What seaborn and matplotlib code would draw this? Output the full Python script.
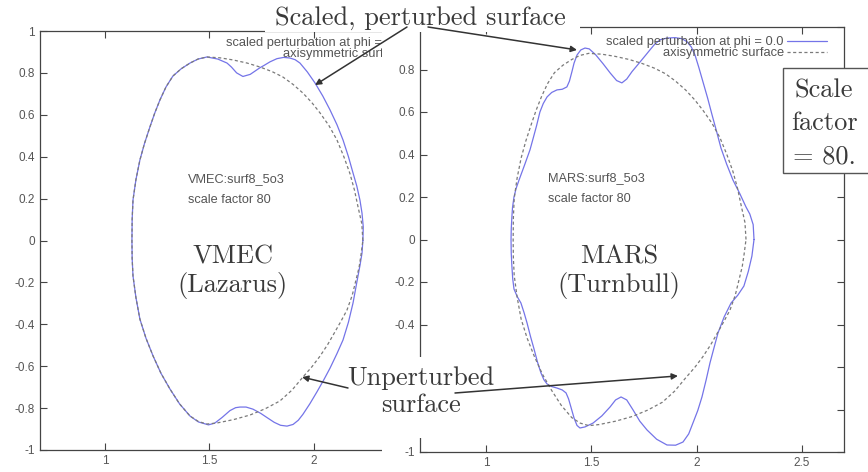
import matplotlib
matplotlib.use("Agg")
import matplotlib.pyplot as plt
from matplotlib.patches import Rectangle, ConnectionPatch
from matplotlib.lines import Line2D
import pandas as pd
import seaborn as sns

# ---- boundary of the axisymmetric surface (R, Z) ----
axisym_R = [2.234, 2.229, 2.211, 2.194, 2.172, 2.143, 2.110, 2.072, 2.029, 1.990,
            1.947, 1.900, 1.852, 1.800, 1.742, 1.680, 1.612, 1.550, 1.488, 1.445,
            1.407, 1.365, 1.325, 1.292, 1.263, 1.238, 1.215, 1.189, 1.167, 1.148,
            1.134, 1.130, 1.129, 1.130, 1.134, 1.148, 1.167, 1.196, 1.230, 1.268,
            1.311, 1.357, 1.407, 1.447, 1.488, 1.536, 1.615, 1.694, 1.767, 1.837,
            1.895, 1.947, 1.990, 2.029, 2.066, 2.100, 2.130, 2.158, 2.183, 2.201,
            2.216, 2.225, 2.234]
axisym_Z = [0.000, 0.080, 0.160, 0.240, 0.320, 0.400, 0.480, 0.548, 0.609, 0.658,
            0.704, 0.745, 0.780, 0.806, 0.828, 0.847, 0.862, 0.872, 0.876, 0.866,
            0.847, 0.820, 0.785, 0.733, 0.671, 0.608, 0.542, 0.463, 0.384, 0.290,
            0.193, 0.100, 0.000, -0.085, -0.169, -0.272, -0.375, -0.466, -0.551, -0.634,
            -0.709, -0.780, -0.838, -0.864, -0.876, -0.871, -0.855, -0.833, -0.803, -0.766,
            -0.714, -0.652, -0.603, -0.552, -0.496, -0.437, -0.384, -0.332, -0.262, -0.189,
            -0.128, -0.069, 0.000]

# ---- VMEC scaled perturbed surface at phi = 0 ----
vmec_R = [2.234, 2.236, 2.230, 2.220, 2.205, 2.187, 2.165, 2.139, 2.110, 2.077,
          2.042, 2.005, 1.968, 1.933, 1.910, 1.885, 1.855, 1.823, 1.790, 1.760,
          1.742, 1.720, 1.695, 1.660, 1.630, 1.605, 1.584, 1.540, 1.488, 1.445,
          1.407, 1.365, 1.325, 1.292, 1.263, 1.238, 1.215, 1.189, 1.167, 1.148,
          1.134, 1.130, 1.129, 1.130, 1.134, 1.148, 1.167, 1.196, 1.230, 1.268,
          1.311, 1.357, 1.407, 1.447, 1.495, 1.525, 1.560, 1.598, 1.625, 1.646,
          1.675, 1.708, 1.745, 1.775, 1.810, 1.840, 1.871, 1.900, 1.925, 1.947,
          1.980, 2.014, 2.046, 2.077, 2.110, 2.139, 2.165, 2.187, 2.205, 2.220,
          2.230, 2.234]
vmec_Z = [0.000, 0.064, 0.130, 0.193, 0.260, 0.322, 0.400, 0.480, 0.553, 0.623,
          0.690, 0.752, 0.805, 0.847, 0.863, 0.871, 0.874, 0.868, 0.853, 0.835,
          0.825, 0.810, 0.793, 0.783, 0.800, 0.828, 0.847, 0.866, 0.876, 0.866,
          0.847, 0.820, 0.785, 0.733, 0.671, 0.608, 0.542, 0.463, 0.384, 0.290,
          0.193, 0.100, 0.000, -0.085, -0.169, -0.272, -0.375, -0.466, -0.551, -0.634,
          -0.709, -0.780, -0.838, -0.866, -0.880, -0.872, -0.845, -0.812, -0.798, -0.795,
          -0.795, -0.805, -0.825, -0.845, -0.868, -0.882, -0.886, -0.878, -0.858, -0.830,
          -0.780, -0.723, -0.667, -0.609, -0.540, -0.475, -0.390, -0.298, -0.200, -0.120,
          -0.060, 0.000]

# ---- MARS scaled perturbed surface at phi = 0 ----
mars_R = [2.272, 2.268, 2.252, 2.234, 2.205, 2.172, 2.142, 2.115, 2.094, 2.073,
          2.052, 2.030, 2.010, 1.992, 1.975, 1.955, 1.930, 1.897, 1.860, 1.826,
          1.800, 1.778, 1.760, 1.745, 1.720, 1.693, 1.668, 1.645, 1.620, 1.590,
          1.555, 1.520, 1.490, 1.470, 1.450, 1.432, 1.418, 1.408, 1.396, 1.384,
          1.362, 1.337, 1.312, 1.290, 1.272, 1.256, 1.240, 1.225, 1.209, 1.183,
          1.157, 1.143, 1.133, 1.126, 1.123, 1.120, 1.119, 1.120, 1.123, 1.127,
          1.133, 1.148, 1.166, 1.181, 1.195, 1.211, 1.228, 1.244, 1.261, 1.275,
          1.290, 1.312, 1.337, 1.362, 1.380, 1.392, 1.403, 1.418, 1.432, 1.446,
          1.470, 1.508, 1.550, 1.589, 1.615, 1.641, 1.668, 1.698, 1.730, 1.764,
          1.810, 1.859, 1.900, 1.935, 1.962, 1.982, 2.005, 2.025, 2.045, 2.063,
          2.082, 2.101, 2.130, 2.163, 2.195, 2.224, 2.245, 2.262, 2.272]
mars_Z = [0.000, 0.070, 0.120, 0.153, 0.215, 0.280, 0.355, 0.431, 0.510, 0.586,
          0.665, 0.741, 0.810, 0.868, 0.905, 0.930, 0.945, 0.950, 0.948, 0.940,
          0.918, 0.892, 0.870, 0.852, 0.822, 0.790, 0.755, 0.737, 0.748, 0.783,
          0.828, 0.870, 0.897, 0.901, 0.892, 0.868, 0.830, 0.790, 0.745, 0.718,
          0.707, 0.704, 0.692, 0.671, 0.640, 0.600, 0.535, 0.480, 0.422, 0.350,
          0.280, 0.240, 0.200, 0.150, 0.106, 0.050, -0.002, -0.065, -0.125, -0.185,
          -0.233, -0.268, -0.299, -0.345, -0.393, -0.455, -0.515, -0.575, -0.628, -0.660,
          -0.680, -0.692, -0.699, -0.708, -0.722, -0.750, -0.788, -0.840, -0.875, -0.887,
          -0.882, -0.864, -0.830, -0.788, -0.755, -0.741, -0.755, -0.802, -0.855, -0.896,
          -0.940, -0.967, -0.968, -0.953, -0.915, -0.864, -0.805, -0.741, -0.660, -0.581,
          -0.510, -0.440, -0.365, -0.299, -0.262, -0.219, -0.150, -0.078, 0.000]

x_ticks = [1.0, 1.5, 2.0, 2.5]
vmec_x_tick_labels = ["1", "1.5", "2", ""]
mars_x_tick_labels = ["1", "1.5", "2", "2.5"]
y_ticks = [-1.0, -0.8, -0.6, -0.4, -0.2, 0.0, 0.2, 0.4, 0.6, 0.8, 1.0]
vmec_y_tick_labels = ["-1", "-0.8", "-0.6", "-0.4", "-0.2", "0", "0.2", "0.4", "0.6", "0.8", "1"]
mars_y_tick_labels = ["-1", "", "", "-0.4", "-0.2", "0", "0.2", "0.4", "0.6", "0.8", ""]
legend_labels = ["scaled perturbation at phi = 0.0", "axisymmetric surface"]

BLUE = "#7474e8"
GRAY = "#7a7a7a"
INK = "#3a3a3a"
SMALL = "#555555"

sns.set_theme(style="white")
plt.rcParams["font.family"] = ["Liberation Sans", "DejaVu Sans"]
SERIF = ["cmr10", "DejaVu Serif"]

W, H = 868, 472
fig = plt.figure(figsize=(W / 100, H / 100), dpi=100)
fig.patch.set_facecolor("white")


def fx(px):
    return px / W


def fy(py):
    return 1 - py / H


def box(x0, y0, x1, y1):
    return [fx(x0), fy(y1), (x1 - x0) / W, (y1 - y0) / H]


def cover(x0, y0, x1, y1, z, **kw):
    r = Rectangle((fx(x0), fy(y1)), (x1 - x0) / W, (y1 - y0) / H,
                  transform=fig.transFigure, facecolor=kw.pop("fc", "white"),
                  edgecolor=kw.pop("ec", "none"), zorder=z, **kw)
    fig.add_artist(r)
    return r


def draw_panel(ax, R, Z, xlim, xlabels, ylabels, legend_anchor):
    sns.lineplot(data=pd.DataFrame({"R": R, "Z": Z}), x="R", y="Z", sort=False,
                 estimator=None, ax=ax, color=BLUE, linewidth=0.9)
    sns.lineplot(data=pd.DataFrame({"R": axisym_R, "Z": axisym_Z}), x="R", y="Z",
                 sort=False, estimator=None, ax=ax, color=GRAY, linewidth=0.9)
    ax.lines[-1].set_linestyle((0, (2.5, 2.0)))
    ax.set_xlim(*xlim)
    ax.set_ylim(-1, 1)
    ax.set_xlabel("")
    ax.set_ylabel("")
    ax.set_xticks(x_ticks)
    ax.set_xticklabels(xlabels)
    ax.set_yticks(y_ticks)
    ax.set_yticklabels(ylabels)
    ax.tick_params(direction="in", length=5, width=0.8, color="#444444",
                   top=True, right=True, bottom=True, left=True,
                   labelsize=8.5, labelcolor=SMALL, pad=3.5)
    ax.set_facecolor("white")
    for s in ax.spines.values():
        s.set_visible(True)
        s.set_color("#444444")
        s.set_linewidth(0.9)
    handles = [Line2D([], [], color=BLUE, lw=0.9),
               Line2D([], [], color=GRAY, lw=0.9, ls=(0, (2.5, 2.0)))]
    ax.legend(handles, legend_labels, loc="upper right", bbox_to_anchor=legend_anchor,
              frameon=False, markerfirst=False, handlelength=3.1, handletextpad=0.25,
              borderpad=0, borderaxespad=0, labelspacing=-0.1, fontsize=9.3,
              labelcolor=SMALL)


ax_l = fig.add_axes(box(40, 31, 464, 450), zorder=1)
ax_r = fig.add_axes(box(420, 27, 844, 452), zorder=3)

draw_panel(ax_l, vmec_R, vmec_Z, (0.689, 2.718), vmec_x_tick_labels,
           vmec_y_tick_labels, (0.960, 0.985))
draw_panel(ax_r, mars_R, mars_Z, (0.687, 2.699), mars_x_tick_labels,
           mars_y_tick_labels, (0.960, 0.978))

# code labels inside each panel
ax_l.text(1.397, 0.279, "VMEC:surf8_5o3", fontsize=9.2, color=SMALL, va="baseline")
ax_l.text(1.397, 0.179, "scale factor 80", fontsize=9.2, color=SMALL, va="baseline")
ax_r.text(1.294, 0.275, "MARS:surf8_5o3", fontsize=9.2, color=SMALL, va="baseline")
ax_r.text(1.294, 0.176, "scale factor 80", fontsize=9.2, color=SMALL, va="baseline")

ax_l.text(1.612, -0.112, "VMEC", fontsize=19, family=SERIF, color=INK,
          ha="center", va="baseline")
ax_l.text(1.612, -0.246, "(Lazarus)", fontsize=19, family=SERIF, color=INK,
          ha="center", va="baseline")
ax_r.text(1.631, -0.111, "MARS", fontsize=19, family=SERIF, color=INK,
          ha="center", va="baseline")
ax_r.text(1.631, -0.247, "(Turnbull)", fontsize=19, family=SERIF, color=INK,
          ha="center", va="baseline")

# white areas laid over the panels
cover(382, 0, 420, 472, 2)
cover(265, 0, 580, 32, 4)
cover(345, 357, 498, 438, 4)
cover(783, 68, 880, 173, 4, ec="#555555", lw=1.0)

fig.text(fx(420), fy(25), "Scaled, perturbed surface", fontsize=19, family=SERIF,
         color=INK, ha="center", va="baseline", zorder=5)
fig.text(fx(421), fy(385), "Unperturbed", fontsize=19, family=SERIF,
         color=INK, ha="center", va="baseline", zorder=5)
fig.text(fx(421), fy(412), "surface", fontsize=19, family=SERIF,
         color=INK, ha="center", va="baseline", zorder=5)
for txt, base in [("Scale", 97), ("factor", 130), ("= 80.", 163)]:
    fig.text(fx(824), fy(base), txt, fontsize=19, family=SERIF, color=INK,
             ha="center", va="baseline", zorder=5)

# arrows from the slide labels to the curves
arrows = [((407, 27), ax_l, (2.005, 0.742)),
          ((428, 27), ax_r, (1.432, 0.892)),
          ((348, 388), ax_l, (1.943, -0.652)),
          ((455, 393), ax_r, (1.911, -0.642))]
for (px, py), ax, xy in arrows:
    con = ConnectionPatch(xyA=(fx(px), fy(py)), coordsA="figure fraction",
                          xyB=xy, coordsB=ax.transData, arrowstyle="-|>",
                          mutation_scale=9, lw=1.1, color="#333333", zorder=6)
    fig.add_artist(con)

fig.savefig("out.png", dpi=100, facecolor="white")
